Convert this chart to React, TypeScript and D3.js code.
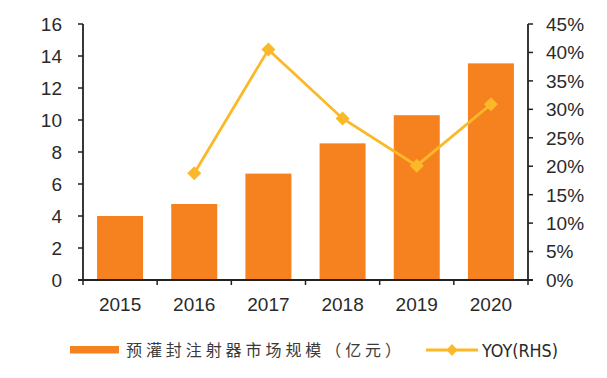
import React from "react";
import * as d3 from "d3";

const years = ["2015", "2016", "2017", "2018", "2019", "2020"];
const marketSize = [4.0, 4.75, 6.65, 8.54, 10.3, 13.54];
const yoy: (number | null)[] = [null, 0.1875, 0.405, 0.284, 0.201, 0.309];
const leftTicks = [0, 2, 4, 6, 8, 10, 12, 14, 16];
const rightTicks = [0, 0.05, 0.1, 0.15, 0.2, 0.25, 0.3, 0.35, 0.4, 0.45];
const barLabel = "预灌封注射器市场规模（亿元）";
const lineLabel = "YOY(RHS)";

const W = 607, H = 378;
const left = 83, right = 528, top = 24, bottom = 280;
const barColor = "#F5821F";
const lineColor = "#FBB829";
const axisColor = "#222";
const textColor = "#2a2a2a";
const font = "'Liberation Sans', Arial, Helvetica, sans-serif";

export default function App() {
  const x = d3.scaleBand<string>().domain(years).range([left, right]).paddingInner(0.38).paddingOuter(0.19);
  const yL = d3.scaleLinear().domain([0, 16]).range([bottom, top]);
  const yR = d3.scaleLinear().domain([0, 0.45]).range([bottom, top]);
  const pts = years.map((yr, i) => ({ yr, v: yoy[i] })).filter(d => d.v !== null) as { yr: string; v: number }[];
  const line = d3.line<{ yr: string; v: number }>()
    .x(d => x(d.yr)! + x.bandwidth() / 2)
    .y(d => yR(d.v));
  const step = (right - left) / years.length;
  const diamond = (cx: number, cy: number, rx: number, ry: number) =>
    `M${cx},${cy - ry}L${cx + rx},${cy}L${cx},${cy + ry}L${cx - rx},${cy}Z`;

  return (
    <svg width={W} height={H} style={{ position: "absolute", left: 0, top: 0, background: "#fff" }}>
      {marketSize.map((v, i) => (
        <rect key={years[i]} x={x(years[i])} y={yL(v)} width={x.bandwidth()} height={bottom - yL(v)} fill={barColor} />
      ))}
      {/* left axis */}
      <line x1={left} x2={left} y1={top} y2={bottom} stroke={axisColor} strokeWidth={1.8} />
      {leftTicks.map(t => (
        <g key={t}>
          <line x1={left - 5} x2={left} y1={yL(t)} y2={yL(t)} stroke={axisColor} strokeWidth={1.5} />
          <text x={62} y={yL(t)} dy="0.36em" textAnchor="end" fontSize={19} style={{ fontFamily: font }} fill={textColor}>{t}</text>
        </g>
      ))}
      {/* right axis */}
      <line x1={right} x2={right} y1={top} y2={bottom} stroke={axisColor} strokeWidth={1.8} />
      {rightTicks.map(t => (
        <g key={t}>
          <line x1={right} x2={right + 5} y1={yR(t)} y2={yR(t)} stroke={axisColor} strokeWidth={1.5} />
          <text x={546} y={yR(t)} dy="0.36em" textAnchor="start" fontSize={19} style={{ fontFamily: font }} fill={textColor}>{d3.format(".0%")(t)}</text>
        </g>
      ))}
      {/* x axis */}
      <line x1={left - 5} x2={right + 5} y1={bottom} y2={bottom} stroke={axisColor} strokeWidth={1.8} />
      {d3.range(years.length + 1).map(i => (
        <line key={i} x1={left + i * step} x2={left + i * step} y1={bottom} y2={bottom + 5} stroke={axisColor} strokeWidth={1.5} />
      ))}
      {years.map(yr => (
        <text key={yr} x={x(yr)! + x.bandwidth() / 2} y={311} textAnchor="middle" fontSize={19} style={{ fontFamily: font }} fill={textColor}>{yr}</text>
      ))}
      {/* line */}
      <path d={line(pts)!} fill="none" stroke={lineColor} strokeWidth={2.8} />
      {pts.map(d => (
        <path key={d.yr} d={diamond(x(d.yr)! + x.bandwidth() / 2, yR(d.v), 7, 7)} fill={lineColor} />
      ))}
      {/* legend */}
      <rect x={70} y={346} width={49} height={7.5} fill={barColor} />
      <text x={126} y={356} fontSize={16} style={{ fontFamily: "'Noto Sans CJK SC', sans-serif" }} textLength={275} lengthAdjust="spacing" fill="#3a3a3a">{barLabel}</text>
      <line x1={426} x2={478} y1={350} y2={350} stroke={lineColor} strokeWidth={2.8} />
      <path d={diamond(452, 350, 5.5, 6)} fill={lineColor} />
      <text x={482} y={356.5} fontSize={18} style={{ fontFamily: "'Liberation Sans Narrow', 'DejaVu Sans Condensed', sans-serif" }} textLength={76} lengthAdjust="spacingAndGlyphs" fill={textColor}>{lineLabel}</text>
    </svg>
  );
}
